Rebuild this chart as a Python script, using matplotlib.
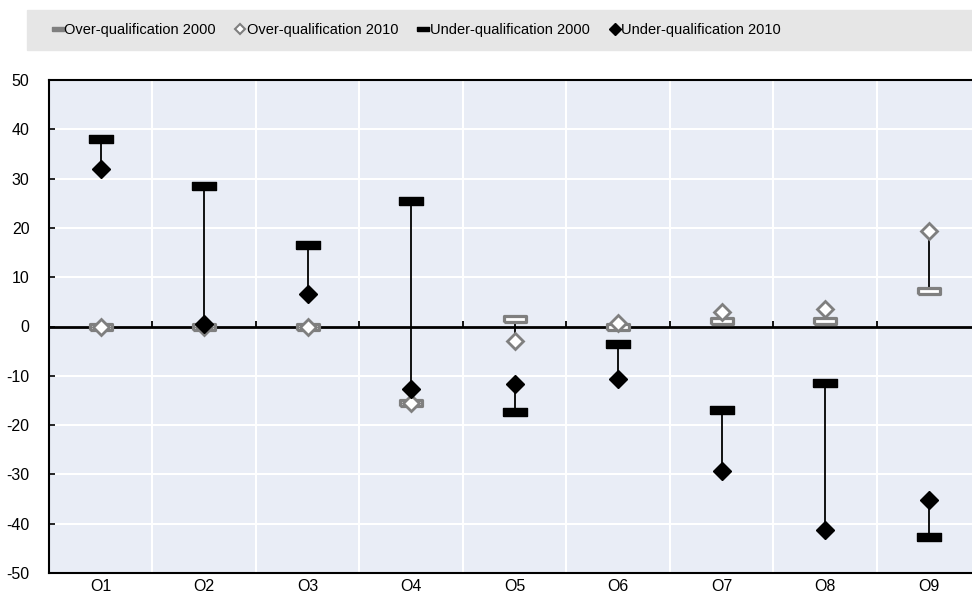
import numpy as np
import matplotlib.pyplot as plt
from matplotlib.lines import Line2D
from matplotlib.patches import Rectangle

# data
cats = ['O1', 'O2', 'O3', 'O4', 'O5', 'O6', 'O7', 'O8', 'O9']
over2000 = [0, 0, 0, -15.5, 1.6, 0, 1.2, 1.2, 7.1]
over2010 = [0, 0, 0, -15.5, -3.0, 0.8, 3.0, 3.6, 19.3]
under2000 = [38, 28.5, 16.5, 25.5, -17.4, -3.6, -17.0, -11.4, -42.6]
under2010 = [32, 0.5, 6.5, -12.6, -11.6, -10.7, -29.4, -41.2, -35.1]

plt.rcParams['font.family'] = ['Liberation Sans', 'DejaVu Sans']
plt.rcParams['axes.unicode_minus'] = False

bg = '#E9EDF6'
grey = '#7F7F7F'
rect = [(-1.7, -0.5), (1.7, -0.5), (1.7, 0.5), (-1.7, 0.5), (-1.7, -0.5)]
flat = [(-1.9, -0.45), (1.9, -0.45), (1.9, 0.45), (-1.9, 0.45), (-1.9, -0.45)]

fig = plt.figure(figsize=(9.72, 5.99), dpi=100)
ax = fig.add_axes([49/972, 1-573/599, 1-49/972, (573-80)/599])
ax.set_facecolor(bg)

x = np.arange(len(cats))

# connectors
ax.vlines(x, over2000, over2010, color='black', lw=1.3, zorder=3)
ax.vlines(x, under2000, under2010, color='black', lw=1.3, zorder=3)

ax.plot(x, over2000, ls='none', marker=flat, ms=16, mfc='white', mec=grey, mew=2.3, zorder=4)
ax.plot(x, over2010, ls='none', marker='D', ms=8, mfc='white', mec=grey, mew=2, zorder=4)
ax.plot(x, under2000, ls='none', marker=rect, ms=17.5, mfc='black', mec='black', mew=1, zorder=5)
ax.plot(x, under2010, ls='none', marker='D', ms=9, mfc='black', mec='black', mew=1, zorder=5)

ax.axhline(0, color='black', lw=2, zorder=2)
# small ticks on the zero line between categories
ax.vlines(x[:-1] + 0.5, 0, 1.2, color='black', lw=1.3, zorder=2)

ax.set_xlim(-0.5, 8.42)
ax.set_ylim(-50, 50)
ax.set_yticks(np.arange(-50, 51, 10))
ax.set_xticks(x)
ax.set_xticklabels(cats)
ax.set_xticks(x[:-1] + 0.5, minor=True)
ax.tick_params(axis='x', which='both', length=0, labelsize=11.5, pad=4)
ax.tick_params(axis='y', direction='in', length=4, width=1.2, labelsize=11.5, pad=14)
ax.grid(axis='y', color='white', lw=1.5)
ax.grid(axis='x', which='minor', color='white', lw=1.5)
ax.set_axisbelow(True)
for s in ['left', 'bottom', 'top']:
    ax.spines[s].set_linewidth(1.5)
ax.spines['right'].set_visible(False)

# legend band
fig.patches.append(Rectangle((27/972, 1-50/599), 1-27/972, 40/599,
                             transform=fig.transFigure, color='#E6E6E6', zorder=0))
handles = [
    Line2D([], [], ls='none', marker=rect, ms=9, mfc=grey, mec=grey),
    Line2D([], [], ls='none', marker='D', ms=5.5, mfc='white', mec=grey, mew=1.5),
    Line2D([], [], ls='none', marker=rect, ms=9, mfc='black', mec='black'),
    Line2D([], [], ls='none', marker='D', ms=6.5, mfc='black', mec='black'),
]
labels = ['Over-qualification 2000', 'Over-qualification 2010',
          'Under-qualification 2000', 'Under-qualification 2010']
fig.legend(handles, labels, loc='center left', bbox_to_anchor=(40/972, 1-30/599),
           ncol=4, frameon=False, handlelength=0.6, handletextpad=0.15,
           columnspacing=1.4, prop={'size': 10.5})

fig.savefig('out.png', dpi=100)
